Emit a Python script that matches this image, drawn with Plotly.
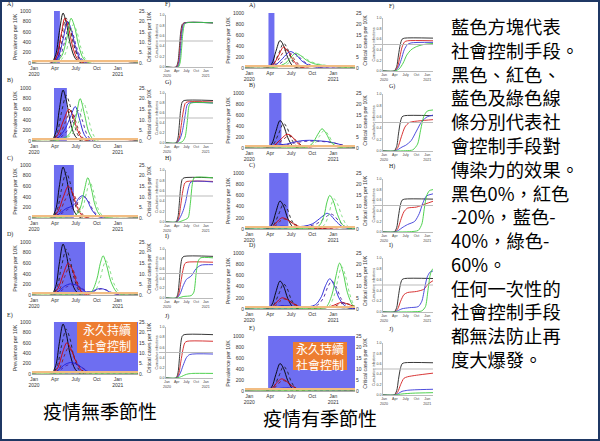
import plotly.graph_objects as go

# x values are months counted from 1 Jan 2020 (3 = Apr, 12 = Jan 2021)
month_ticks = [0, 3, 6, 9, 12]
month_labels = ["Jan<br>2020", "Apr", "July", "Oct", "Jan<br>2021"]
prev_ticks = [0, 200, 400, 600, 800, 1000]
crit_ticks = [0, 5, 10, 15, 20, 25]
crit_labels_ns = ["0.", "5.", "10.", "15.", "20.", "25."]
crit_labels_s = ["0", "5", "10", "15", "20", "25"]
cum_ticks = [0, 0.2, 0.4, 0.6, 0.8, 1.0]
cum_labels = ["0.0", "0.2", "0.4", "0.6", "0.8", "1.0"]
icu_capacity = 0.89
half_line = 0.5

# one-time distancing windows (start, end), months
ns_blocks = [(2.85, 3.7), (2.85, 4.7), (2.85, 5.7), (2.85, 7.3), (2.85, 14.9)]
s_blocks = [(2.75, 3.6), (2.85, 4.6), (2.85, 5.6), (2.85, 7.4), (2.7, 15.1)]

# ---- prevalence, no seasonality (left) ----
ns_black = ([-0.3, 2.4, 3.1, 3.6, 4.15, 4.6, 5.2, 5.9, 6.8, 14.9], [0, 0, 160, 580, 960, 780, 360, 90, 0, 0])
ns_black2 = ([-0.3, 2.5, 3.3, 3.9, 4.6, 5.1, 5.7, 6.4, 7.3, 14.9], [0, 0, 150, 520, 860, 700, 340, 90, 0, 0])

nsA_red = ([-0.3, 2.5, 3.3, 3.9, 4.4, 4.9, 5.5, 6.2, 7.1, 14.9], [0, 0, 150, 560, 860, 700, 330, 80, 0, 0])
nsA_red2 = ([-0.3, 2.6, 3.5, 4.1, 4.7, 5.2, 5.8, 6.5, 7.4, 14.9], [0, 0, 140, 500, 800, 650, 320, 80, 0, 0])
nsA_blue = ([-0.3, 2.6, 3.5, 4.2, 4.8, 5.3, 5.9, 6.6, 7.5, 14.9], [0, 0, 130, 480, 800, 660, 330, 80, 0, 0])
nsA_blue2 = ([-0.3, 2.7, 3.7, 4.4, 5.0, 5.5, 6.1, 6.8, 7.7, 14.9], [0, 0, 120, 420, 700, 590, 300, 80, 0, 0])
nsA_green = ([-0.3, 2.8, 3.9, 4.7, 5.3, 5.8, 6.4, 7.1, 8.0, 14.9], [0, 0, 120, 480, 860, 700, 330, 80, 0, 0])
nsA_green2 = ([-0.3, 2.9, 4.2, 5.0, 5.6, 6.1, 6.7, 7.4, 8.3, 14.9], [0, 0, 110, 420, 740, 620, 300, 70, 0, 0])

nsB_red = ([-0.3, 2.5, 3.4, 4.2, 5.0, 5.5, 6.1, 6.8, 7.7, 14.9], [0, 0, 120, 380, 600, 500, 250, 60, 0, 0])
nsB_red2 = ([-0.3, 2.6, 3.6, 4.4, 5.2, 5.7, 6.3, 7.0, 7.9, 14.9], [0, 0, 100, 330, 560, 470, 240, 60, 0, 0])
nsB_blue = ([-0.3, 2.6, 3.6, 4.5, 5.2, 5.9, 6.5, 7.2, 8.1, 14.9], [0, 0, 80, 240, 450, 650, 420, 120, 0, 0])
nsB_blue2 = ([-0.3, 2.7, 3.8, 4.8, 5.6, 6.3, 6.9, 7.6, 8.5, 14.9], [0, 0, 70, 200, 400, 580, 400, 120, 0, 0])
nsB_green = ([-0.3, 2.8, 4.0, 5.0, 5.9, 6.6, 7.2, 7.9, 8.8, 14.9], [0, 0, 40, 120, 400, 800, 520, 150, 0, 0])
nsB_green2 = ([-0.3, 2.9, 4.2, 5.3, 6.4, 7.1, 7.7, 8.4, 9.3, 14.9], [0, 0, 40, 110, 360, 720, 480, 140, 0, 0])

nsC_red = ([-0.3, 2.5, 3.4, 4.2, 4.9, 5.5, 6.1, 6.8, 7.7, 14.9], [0, 0, 120, 400, 600, 480, 230, 60, 0, 0])
nsC_red2 = ([-0.3, 2.6, 3.6, 4.4, 5.2, 5.8, 6.4, 7.1, 8.0, 14.9], [0, 0, 100, 330, 500, 420, 200, 50, 0, 0])
nsC_blue = ([-0.3, 2.7, 3.8, 4.6, 5.4, 6.0, 6.5, 7.0, 7.6, 8.3, 9.3, 14.9], [0, 0, 100, 180, 220, 290, 390, 420, 340, 150, 20, 0])
nsC_blue2 = ([-0.3, 2.8, 4.0, 4.8, 5.6, 6.2, 6.7, 7.2, 7.8, 8.5, 9.5, 14.9], [0, 0, 90, 160, 200, 280, 380, 400, 320, 140, 20, 0])
nsC_green = ([-0.3, 2.9, 4.5, 5.8, 6.6, 7.2, 7.7, 8.2, 8.8, 9.6, 14.9], [0, 0, 20, 40, 180, 520, 760, 560, 220, 40, 0])
nsC_green2 = ([-0.3, 3.0, 4.7, 6.0, 6.9, 7.5, 8.0, 8.5, 9.1, 9.9, 14.9], [0, 0, 20, 40, 170, 470, 680, 510, 200, 40, 0])

nsD_red = ([-0.3, 2.5, 3.4, 4.2, 4.9, 5.5, 6.1, 6.8, 7.7, 14.9], [0, 0, 120, 400, 600, 480, 230, 60, 0, 0])
nsD_red2 = ([-0.3, 2.6, 3.6, 4.4, 5.1, 5.7, 6.3, 7.0, 7.9, 14.9], [0, 0, 100, 350, 540, 440, 210, 50, 0, 0])
nsD_blue = ([-0.3, 2.7, 3.6, 4.4, 5.2, 6.0, 6.8, 7.5, 8.2, 8.8, 9.4, 10.0, 10.8, 11.8, 14.9], [0, 0, 80, 170, 210, 190, 120, 60, 60, 100, 120, 110, 60, 10, 0])
nsD_blue2 = ([-0.3, 2.8, 3.8, 4.6, 5.4, 6.2, 7.0, 7.7, 8.4, 9.0, 9.6, 10.2, 11.0, 12.0, 14.9], [0, 0, 70, 150, 190, 175, 115, 60, 60, 95, 115, 105, 55, 10, 0])
nsD_green = ([-0.3, 3.0, 5.0, 7.0, 8.2, 9.0, 9.5, 9.9, 10.4, 11.0, 11.8, 12.5, 14.9], [0, 0, 15, 25, 60, 300, 600, 740, 560, 260, 60, 10, 0])
nsD_green2 = ([-0.3, 3.0, 5.2, 7.3, 8.6, 9.4, 9.9, 10.3, 10.8, 11.4, 12.2, 12.9, 14.9], [0, 0, 15, 25, 55, 270, 530, 650, 500, 230, 55, 10, 0])

nsE_red = ([-0.3, 2.5, 3.4, 4.1, 4.7, 5.3, 6.0, 6.8, 7.8, 14.9], [0, 0, 120, 420, 600, 480, 240, 70, 0, 0])
nsE_red2 = ([-0.3, 2.6, 3.6, 4.3, 4.9, 5.5, 6.2, 7.0, 8.0, 14.9], [0, 0, 100, 340, 500, 410, 210, 60, 0, 0])
nsE_blue = ([-0.3, 2.7, 3.6, 4.4, 5.2, 6.0, 6.8, 7.6, 8.8, 14.9], [0, 0, 90, 180, 220, 200, 130, 50, 0, 0])
nsE_blue2 = ([-0.3, 2.8, 3.8, 4.6, 5.4, 6.2, 7.0, 7.8, 9.0, 14.9], [0, 0, 80, 160, 190, 175, 115, 45, 0, 0])
nsE_green = ([-0.3, 2.8, 4.0, 5.5, 7.0, 8.5, 14.9], [0, 5, 15, 25, 20, 10, 5])
nsE_green2 = ([-0.3, 2.8, 4.2, 5.8, 7.3, 8.8, 14.9], [0, 4, 12, 20, 17, 8, 4])

# ---- prevalence, seasonal (right) ----
s_black = ([-0.6, 2.4, 3.2, 3.8, 4.4, 4.9, 5.5, 6.2, 7.1, 15.1], [0, 0, 70, 300, 500, 410, 190, 40, 0, 0])
s_black2 = ([-0.6, 2.5, 3.4, 4.2, 4.9, 5.4, 6.0, 6.7, 7.6, 15.1], [0, 0, 60, 260, 450, 370, 170, 40, 0, 0])

sA_red = ([-0.6, 2.5, 3.4, 4.2, 4.9, 5.5, 6.2, 7.0, 8.0, 15.1], [0, 0, 60, 230, 380, 310, 160, 40, 0, 0])
sA_red2 = ([-0.6, 2.6, 3.6, 4.4, 5.2, 5.8, 6.5, 7.3, 8.3, 15.1], [0, 0, 50, 200, 330, 280, 150, 40, 0, 0])
sA_blue = ([-0.6, 2.6, 3.6, 4.6, 5.4, 5.9, 6.6, 7.5, 8.5, 9.8, 15.1], [0, 0, 40, 150, 260, 300, 250, 130, 50, 10, 0])
sA_blue2 = ([-0.6, 2.7, 3.8, 4.9, 5.7, 6.2, 6.9, 7.8, 8.8, 10.1, 15.1], [0, 0, 35, 130, 230, 270, 230, 120, 50, 10, 0])
sA_green = ([-0.6, 2.7, 4.0, 5.2, 6.0, 6.6, 7.3, 8.2, 9.2, 10.5, 12.0, 13.5, 15.1], [0, 0, 25, 90, 200, 270, 230, 140, 80, 50, 30, 10, 0])
sA_green2 = ([-0.6, 2.8, 4.2, 5.5, 6.4, 7.0, 7.7, 8.6, 9.6, 10.9, 12.4, 13.8, 15.1], [0, 0, 20, 80, 180, 230, 200, 130, 80, 50, 30, 10, 0])

sB_red = ([-0.6, 2.6, 3.6, 4.6, 5.4, 6.0, 6.6, 7.4, 8.4, 15.1], [0, 0, 50, 170, 250, 220, 130, 40, 0, 0])
sB_red2 = ([-0.6, 2.7, 3.8, 4.8, 5.6, 6.2, 6.8, 7.6, 8.6, 15.1], [0, 0, 45, 150, 220, 200, 120, 40, 0, 0])
sB_blue = ([-0.6, 2.6, 3.6, 4.5, 5.3, 6.2, 7.3, 8.6, 10.0, 11.5, 12.8, 14.0, 15.1], [0, 0, 30, 60, 70, 100, 130, 140, 130, 110, 70, 25, 10])
sB_blue2 = ([-0.6, 2.7, 3.8, 4.7, 5.5, 6.4, 7.5, 8.8, 10.2, 11.7, 13.0, 14.2, 15.1], [0, 0, 25, 55, 65, 90, 115, 125, 120, 100, 65, 25, 10])
sB_green = ([-0.6, 3.0, 6.0, 8.0, 9.0, 9.8, 10.4, 11.0, 11.7, 12.6, 15.1], [0, 0, 5, 10, 80, 250, 350, 260, 100, 20, 0])
sB_green2 = ([-0.6, 3.0, 6.0, 8.2, 9.3, 10.1, 10.7, 11.3, 12.0, 12.9, 15.1], [0, 0, 5, 10, 70, 230, 320, 240, 90, 20, 0])

sC_red = ([-0.6, 2.6, 3.5, 4.2, 4.7, 5.4, 6.2, 7.2, 8.5, 10.0, 12.0, 13.5, 14.2, 15.1], [0, 0, 60, 160, 200, 170, 100, 40, 15, 10, 20, 35, 40, 30])
sC_red2 = ([-0.6, 2.7, 3.7, 4.4, 4.9, 5.6, 6.4, 7.4, 8.7, 10.2, 12.2, 13.7, 14.4, 15.1], [0, 0, 50, 140, 180, 155, 95, 40, 15, 10, 20, 30, 35, 30])
sC_blue = ([-0.6, 2.6, 3.6, 4.5, 5.5, 6.5, 7.8, 9.0, 10.0, 10.7, 11.1, 11.6, 12.3, 13.2, 14.2, 15.1], [0, 0, 30, 50, 45, 40, 50, 90, 180, 250, 280, 250, 150, 50, 10, 0])
sC_blue2 = ([-0.6, 2.7, 3.8, 4.7, 5.7, 6.7, 8.2, 9.5, 10.5, 11.2, 11.6, 12.1, 12.8, 13.7, 14.6, 15.1], [0, 0, 25, 45, 40, 38, 48, 85, 170, 240, 270, 240, 140, 45, 10, 0])
sC_green = ([-0.6, 3.0, 7.0, 9.0, 10.0, 10.7, 11.1, 11.5, 12.0, 12.6, 13.3, 14.2, 15.1], [0, 0, 5, 10, 60, 250, 480, 600, 500, 260, 80, 10, 0])
sC_green2 = ([-0.6, 3.0, 7.4, 9.5, 10.6, 11.3, 11.7, 12.1, 12.6, 13.2, 13.9, 14.7, 15.1], [0, 0, 5, 10, 55, 230, 430, 540, 450, 240, 70, 10, 0])

sD_red = ([-0.6, 2.6, 3.5, 4.2, 4.7, 5.4, 6.2, 7.2, 8.5, 10.0, 11.5, 12.5, 13.2, 14.0, 15.1], [0, 0, 60, 160, 200, 170, 100, 40, 15, 15, 40, 90, 120, 90, 40])
sD_red2 = ([-0.6, 2.7, 3.7, 4.4, 4.9, 5.6, 6.4, 7.4, 8.7, 10.2, 11.8, 12.8, 13.5, 14.3, 15.1], [0, 0, 50, 140, 180, 155, 95, 40, 15, 15, 35, 80, 105, 85, 45])
sD_blue = ([-0.6, 2.6, 3.6, 4.5, 5.5, 6.5, 7.5, 8.5, 9.5, 10.3, 10.9, 11.5, 12.1, 12.8, 13.6, 14.5, 15.1], [0, 0, 30, 60, 55, 45, 35, 40, 80, 220, 420, 540, 430, 200, 60, 10, 0])
sD_blue2 = ([-0.6, 2.7, 3.8, 4.7, 5.7, 6.7, 7.7, 8.7, 9.8, 10.6, 11.2, 11.8, 12.4, 13.1, 13.9, 14.8, 15.1], [0, 0, 25, 55, 50, 42, 33, 38, 75, 200, 390, 500, 400, 190, 60, 10, 0])
sD_green = ([-0.6, 3.0, 8.0, 10.0, 11.0, 11.8, 12.4, 12.9, 13.4, 14.0, 14.7, 15.1], [0, 0, 5, 10, 40, 250, 600, 820, 650, 300, 80, 30])
sD_green2 = ([-0.6, 3.0, 8.3, 10.3, 11.3, 12.1, 12.7, 13.2, 13.7, 14.3, 14.9, 15.1], [0, 0, 5, 10, 35, 230, 550, 760, 610, 290, 80, 50])

sE_red = ([-0.6, 2.4, 3.3, 4.0, 4.6, 5.2, 5.9, 6.8, 7.8, 15.1], [0, 0, 50, 160, 220, 190, 110, 40, 0, 0])
sE_red2 = ([-0.6, 2.5, 3.5, 4.2, 4.8, 5.4, 6.1, 7.0, 8.0, 15.1], [0, 0, 45, 140, 190, 165, 100, 35, 0, 0])
sE_blue = ([-0.6, 2.5, 3.6, 4.5, 5.5, 6.5, 7.5, 8.5, 15.1], [0, 0, 30, 50, 55, 45, 30, 10, 0])
sE_blue2 = ([-0.6, 2.6, 3.8, 4.7, 5.7, 6.7, 7.7, 8.7, 15.1], [0, 0, 25, 45, 50, 40, 28, 10, 0])
sE_green = ([-0.6, 3.0, 6.0, 9.0, 15.1], [0, 5, 10, 5, 0])
sE_green2 = ([-0.6, 3.0, 6.3, 9.3, 15.1], [0, 4, 8, 4, 0])

# ---- cumulative infections, no seasonality ----
ns_cum_black = ([-0.3, 2.8, 3.4, 3.8, 4.2, 4.7, 5.3, 14.2], [0, 0, 0.1, 0.35, 0.65, 0.82, 0.85, 0.85])
nsF_red = ([-0.3, 3.0, 3.6, 4.0, 4.4, 4.9, 5.5, 14.2], [0, 0, 0.1, 0.35, 0.65, 0.82, 0.85, 0.85])
nsF_blue = ([-0.3, 3.2, 3.8, 4.2, 4.6, 5.1, 5.7, 14.2], [0, 0, 0.1, 0.35, 0.65, 0.82, 0.85, 0.85])
nsF_green = ([-0.3, 3.5, 4.1, 4.5, 4.9, 5.4, 6.0, 14.2], [0, 0, 0.1, 0.35, 0.65, 0.82, 0.85, 0.85])
nsG_red = ([-0.3, 3.0, 3.8, 4.4, 5.0, 5.6, 6.2, 14.2], [0, 0, 0.1, 0.35, 0.62, 0.79, 0.82, 0.82])
nsG_blue = ([-0.3, 3.0, 4.0, 4.8, 5.6, 6.2, 6.8, 14.2], [0, 0, 0.08, 0.25, 0.55, 0.76, 0.8, 0.8])
nsG_green = ([-0.3, 3.5, 4.8, 5.6, 6.3, 6.8, 7.4, 14.2], [0, 0, 0.03, 0.12, 0.45, 0.74, 0.8, 0.8])
nsH_red = ([-0.3, 3.0, 3.7, 4.3, 4.9, 5.5, 6.2, 14.2], [0, 0, 0.1, 0.35, 0.6, 0.75, 0.78, 0.78])
nsH_blue = ([-0.3, 3.0, 4.0, 5.0, 5.8, 6.6, 7.4, 14.2], [0, 0, 0.08, 0.22, 0.4, 0.65, 0.77, 0.77])
nsH_green = ([-0.3, 3.5, 5.0, 6.5, 7.2, 7.8, 8.4, 14.2], [0, 0, 0.03, 0.08, 0.35, 0.72, 0.85, 0.85])
nsI_red = ([-0.3, 3.0, 3.7, 4.3, 4.9, 5.5, 6.2, 14.2], [0, 0, 0.1, 0.33, 0.56, 0.7, 0.73, 0.73])
nsI_blue = ([-0.3, 3.0, 4.0, 5.0, 6.0, 7.5, 9.0, 10.5, 14.2], [0, 0, 0.08, 0.25, 0.38, 0.45, 0.6, 0.67, 0.68])
nsI_green = ([-0.3, 3.5, 5.0, 7.5, 8.3, 9.0, 9.6, 10.4, 14.2], [0, 0, 0.03, 0.05, 0.12, 0.5, 0.75, 0.82, 0.82])
nsJ_red = ([-0.3, 3.0, 3.7, 4.3, 4.9, 5.5, 6.2, 14.2], [0, 0, 0.1, 0.33, 0.55, 0.69, 0.72, 0.72])
nsJ_blue = ([-0.3, 3.0, 4.0, 5.0, 6.0, 7.0, 14.2], [0, 0, 0.08, 0.25, 0.4, 0.46, 0.47])
nsJ_green = ([-0.3, 3.0, 4.5, 5.5, 6.5, 8.0, 14.2], [0, 0, 0.03, 0.06, 0.08, 0.09, 0.09])

# ---- cumulative infections, seasonal ----
s_cum_black = ([-0.3, 2.8, 3.5, 4.0, 4.5, 5.0, 5.7, 13.6], [0, 0, 0.08, 0.3, 0.5, 0.6, 0.62, 0.62])
sF_red = ([-0.3, 2.9, 3.7, 4.4, 5.0, 5.7, 6.5, 13.6], [0, 0, 0.07, 0.27, 0.45, 0.55, 0.57, 0.57])
sF_blue = ([-0.3, 3.0, 3.9, 4.8, 5.6, 6.5, 7.5, 13.6], [0, 0, 0.06, 0.22, 0.4, 0.5, 0.53, 0.54])
sF_green = ([-0.3, 3.0, 4.2, 5.3, 6.3, 7.5, 9.0, 11.0, 13.6], [0, 0, 0.04, 0.15, 0.3, 0.4, 0.46, 0.5, 0.52])
sG_red = ([-0.3, 2.9, 3.8, 4.8, 5.8, 7.0, 10.0, 13.6], [0, 0, 0.06, 0.25, 0.42, 0.5, 0.53, 0.55])
sG_blue = ([-0.3, 3.0, 4.0, 5.0, 6.0, 7.5, 9.0, 10.5, 12.0, 13.6], [0, 0, 0.03, 0.07, 0.1, 0.18, 0.35, 0.52, 0.6, 0.63])
sG_green = ([-0.3, 3.0, 6.0, 8.0, 9.3, 10.2, 11.0, 12.0, 13.6], [0, 0, 0.005, 0.02, 0.12, 0.38, 0.6, 0.7, 0.72])
sH_red = ([-0.3, 2.9, 3.8, 4.6, 5.5, 6.5, 9.0, 11.5, 13.6], [0, 0, 0.06, 0.22, 0.38, 0.45, 0.47, 0.53, 0.58])
sH_blue = ([-0.3, 3.0, 4.0, 5.0, 6.5, 8.5, 9.8, 10.8, 11.8, 13.6], [0, 0, 0.03, 0.08, 0.14, 0.2, 0.35, 0.55, 0.68, 0.72])
sH_green = ([-0.3, 3.0, 7.0, 9.5, 10.5, 11.2, 11.8, 12.6, 13.6], [0, 0, 0.005, 0.03, 0.15, 0.45, 0.68, 0.78, 0.8])
sI_red = ([-0.3, 2.9, 3.8, 4.6, 5.5, 6.5, 9.0, 11.0, 12.3, 13.6], [0, 0, 0.06, 0.2, 0.32, 0.36, 0.38, 0.42, 0.52, 0.58])
sI_blue = ([-0.3, 3.0, 4.0, 5.0, 7.0, 9.5, 10.5, 11.3, 12.0, 12.8, 13.6], [0, 0, 0.03, 0.06, 0.08, 0.1, 0.2, 0.45, 0.65, 0.74, 0.76])
sI_green = ([-0.3, 3.0, 8.0, 10.5, 11.5, 12.2, 12.8, 13.3, 13.6], [0, 0, 0.005, 0.02, 0.1, 0.4, 0.68, 0.78, 0.8])
sJ_red = ([-0.3, 2.9, 3.8, 4.6, 5.5, 6.5, 9.0, 13.6], [0, 0, 0.06, 0.2, 0.32, 0.35, 0.38, 0.42])
sJ_blue = ([-0.3, 3.0, 4.0, 5.0, 6.5, 8.5, 13.6], [0, 0, 0.03, 0.07, 0.09, 0.1, 0.11])
sJ_green = ([-0.3, 3.0, 5.0, 8.0, 13.6], [0, 0, 0.02, 0.035, 0.045])

ns_letters = ["A)", "B)", "C)", "D)", "E)"]
cum_letters = ["F)", "G)", "H)", "I)", "J)"]
note_lines = ["藍色方塊代表", "社會控制手段。", "黑色、紅色、", "藍色及綠色線", "條分別代表社",
              "會控制手段對", "傳染力的效果。", "黑色0%，紅色", "-20%，藍色-", "40%，綠色-",
              "60%。", "任何一次性的", "社會控制手段", "都無法防止再", "度大爆發。"]

ns_prev = [
    [ns_black, ns_black2, nsA_red, nsA_red2, nsA_blue, nsA_blue2, nsA_green, nsA_green2],
    [ns_black, ns_black2, nsB_red, nsB_red2, nsB_blue, nsB_blue2, nsB_green, nsB_green2],
    [ns_black, ns_black2, nsC_red, nsC_red2, nsC_blue, nsC_blue2, nsC_green, nsC_green2],
    [ns_black, ns_black2, nsD_red, nsD_red2, nsD_blue, nsD_blue2, nsD_green, nsD_green2],
    [ns_black, ns_black2, nsE_red, nsE_red2, nsE_blue, nsE_blue2, nsE_green, nsE_green2],
]
s_prev = [
    [s_black, s_black2, sA_red, sA_red2, sA_blue, sA_blue2, sA_green, sA_green2],
    [s_black, s_black2, sB_red, sB_red2, sB_blue, sB_blue2, sB_green, sB_green2],
    [s_black, s_black2, sC_red, sC_red2, sC_blue, sC_blue2, sC_green, sC_green2],
    [s_black, s_black2, sD_red, sD_red2, sD_blue, sD_blue2, sD_green, sD_green2],
    [s_black, s_black2, sE_red, sE_red2, sE_blue, sE_blue2, sE_green, sE_green2],
]
ns_cum = [
    [ns_cum_black, nsF_red, nsF_blue, nsF_green],
    [ns_cum_black, nsG_red, nsG_blue, nsG_green],
    [ns_cum_black, nsH_red, nsH_blue, nsH_green],
    [ns_cum_black, nsI_red, nsI_blue, nsI_green],
    [ns_cum_black, nsJ_red, nsJ_blue, nsJ_green],
]
s_cum = [
    [s_cum_black, sF_red, sF_blue, sF_green],
    [s_cum_black, sG_red, sG_blue, sG_green],
    [s_cum_black, sH_red, sH_blue, sH_green],
    [s_cum_black, sI_red, sI_blue, sI_green],
    [s_cum_black, sJ_red, sJ_blue, sJ_green],
]

prev_colors = ["#000000", "#222222", "#d40000", "#8b1a1a", "#1c1cd8", "#4b1f9e", "#3ccc3c", "#7ada7a"]
prev_dashes = ["solid", "dot", "solid", "dot", "solid", "dot", "solid", "dot"]
cum_colors = ["#222222", "#d42020", "#3a3ad8", "#3ccc3c"]

W, H = 600, 441
def fx(px): return px / W
def fy(py): return 1 - py / H

fig = go.Figure()
layout = {}
shapes = []
annotations = []
count = {"x": 0, "y": 0}

def new_axis(kind):
    count[kind] += 1
    n = count[kind]
    return (kind if n == 1 else f"{kind}{n}"), (f"{kind}axis" if n == 1 else f"{kind}axis{n}")

TICKFONT = dict(family="Liberation Sans", size=5, color="#333333")
AX = dict(showgrid=False, zeroline=False, ticks="", automargin=False)

def prev_panel(x0, x1, top, bot, xrange, curves, block, crit_labels):
    xr, xk = new_axis("x")
    yr, yk = new_axis("y")
    y2r, y2k = new_axis("y")
    layout[xk] = dict(domain=[fx(x0), fx(x1)], range=xrange, anchor=yr, tickvals=month_ticks,
                      ticktext=month_labels, tickfont=TICKFONT, showline=True,
                      linecolor="#aaaaaa", linewidth=0.6, **AX)
    layout[yk] = dict(domain=[fy(bot), fy(top)], range=[0, 1000], anchor=xr, tickvals=prev_ticks,
                      tickfont=TICKFONT, **AX,
                      title=dict(text="Prevalence per 10K", font=dict(family="Liberation Sans", size=5.3, color="#333"), standoff=2))
    layout[y2k] = dict(overlaying=yr, side="right", anchor=xr, range=[0, 25], tickvals=crit_ticks,
                       ticktext=crit_labels, tickfont=TICKFONT, **AX,
                       title=dict(text="Critical cases per 10K", font=dict(family="Liberation Sans", size=5.2, color="#333"), standoff=2))
    shapes.append(dict(type="rect", xref=xr, yref=yr, x0=block[0], x1=block[1], y0=0, y1=1000,
                       fillcolor="rgba(0,0,230,0.57)", line_width=0, layer="below"))
    fig.add_trace(go.Scatter(x=[xrange[0], xrange[1]], y=[icu_capacity, icu_capacity], mode="lines",
                             line=dict(color="#f2bd83", width=2.2), xaxis=xr, yaxis=y2r,
                             showlegend=False, hoverinfo="skip"))
    for (xs, ys), c, d in zip(curves, prev_colors, prev_dashes):
        fig.add_trace(go.Scatter(x=xs, y=ys, mode="lines",
                                 line=dict(color=c, width=0.9, dash=d, shape="spline", smoothing=0.9),
                                 xaxis=xr, yaxis=yr, showlegend=False, hoverinfo="skip"))

def cum_panel(x0, x1, top, bot, xrange, curves, gray_x0):
    xr, xk = new_axis("x")
    yr, yk = new_axis("y")
    small = dict(family="Liberation Sans", size=3.6, color="#444444")
    layout[xk] = dict(domain=[fx(x0), fx(x1)], range=xrange, anchor=yr, tickvals=month_ticks,
                      ticktext=month_labels, tickfont=small, showline=True,
                      linecolor="#bbbbbb", linewidth=0.6, **AX)
    layout[yk] = dict(domain=[fy(bot), fy(top)], range=[0, 1], anchor=xr, tickvals=cum_ticks,
                      ticktext=cum_labels, tickfont=small, showline=True,
                      linecolor="#bbbbbb", linewidth=0.6, **AX,
                      title=dict(text="Cumulative infections", font=small, standoff=1))
    shapes.append(dict(type="line", xref="paper", yref=yr, x0=fx(gray_x0), x1=fx(x1),
                       y0=half_line, y1=half_line, line=dict(color="#bbbbbb", width=1)))
    for (xs, ys), c in zip(curves, cum_colors):
        fig.add_trace(go.Scatter(x=xs, y=ys, mode="lines",
                                 line=dict(color=c, width=0.9, shape="spline", smoothing=0.7),
                                 xaxis=xr, yaxis=yr, showlegend=False, hoverinfo="skip"))

ns_prev_rows = [(11, 63), (88, 141), (165, 218), (242, 295), (322, 374)]
s_prev_rows = [(13, 68), (93, 148), (173, 229), (253, 309), (336, 391)]
ns_cum_rows = [(15, 67), (93, 143), (170, 222), (249, 298), (327, 378)]
s_cum_rows = [(18, 71), (94, 151), (179, 232), (258, 312), (343, 395)]

letter_font = dict(family="Liberation Serif", size=6, color="#222")
for i in range(5):
    prev_panel(32, 138, *ns_prev_rows[i], [-0.3, 14.9], ns_prev[i], ns_blocks[i], crit_labels_ns)
    cum_panel(166, 213, *ns_cum_rows[i], [-0.3, 14.2], ns_cum[i], 159)
    prev_panel(245, 355, *s_prev_rows[i], [-0.6, 15.1], s_prev[i], s_blocks[i], crit_labels_s)
    cum_panel(383, 433, *s_cum_rows[i], [-0.3, 13.6], s_cum[i], 375)

    for px, py, t in [(5, ns_prev_rows[i][0] - 7, ns_letters[i]), (163, ns_prev_rows[i][0] - 6, cum_letters[i]),
                      (247, s_prev_rows[i][0] - 7.5, ns_letters[i]), (387, s_prev_rows[i][0] - 7, cum_letters[i])]:
        annotations.append(dict(x=fx(px), y=fy(py), xref="paper", yref="paper", text=t, showarrow=False,
                                xanchor="left", yanchor="middle", font=letter_font))

# orange "indefinite" boxes
for bx0, bx1, by0, by1 in [(77, 137, 322, 353), (293, 347, 342, 370)]:
    shapes.append(dict(type="rect", xref="paper", yref="paper", x0=fx(bx0), x1=fx(bx1), y0=fy(by1), y1=fy(by0),
                       fillcolor="#ed7d31", line_width=0, layer="above"))
    annotations.append(dict(x=fx((bx0 + bx1) / 2), y=fy((by0 + by1) / 2), xref="paper", yref="paper",
                            text="永久持續<br>社會控制", showarrow=False, xanchor="center", yanchor="middle",
                            font=dict(family="Noto Sans CJK TC", size=12, color="white")))

cjk = "Noto Sans CJK TC"
annotations.append(dict(x=fx(100), y=fy(410), xref="paper", yref="paper", text="疫情無季節性",
                        showarrow=False, xanchor="center", yanchor="middle",
                        font=dict(family=cjk, size=19, color="black")))
annotations.append(dict(x=fx(320), y=fy(417), xref="paper", yref="paper", text="疫情有季節性",
                        showarrow=False, xanchor="center", yanchor="middle",
                        font=dict(family=cjk, size=19, color="black")))
# explanatory paragraph on the right, one text block
annotations.append(dict(x=fx(449), y=fy(11), xref="paper", yref="paper", text="<br>".join(note_lines),
                        showarrow=False, xanchor="left", yanchor="top", align="left",
                        font=dict(family=cjk, size=18.3, color="black")))

# dark frame around the slide
shapes.append(dict(type="rect", xref="paper", yref="paper", x0=0, x1=1, y0=0, y1=1,
                   line=dict(color="#1f3864", width=4), layer="above"))

fig.update_layout(
    width=W, height=H,
    margin=dict(l=0, r=0, t=0, b=0, autoexpand=False),
    paper_bgcolor="white", plot_bgcolor="white",
    showlegend=False,
    shapes=shapes, annotations=annotations,
    **layout,
)

# the page body has a default margin; drop it so the figure fills the window
fig.write_html("out.html", config={"displayModeBar": False},
               post_script="document.body.style.margin = '0';")
